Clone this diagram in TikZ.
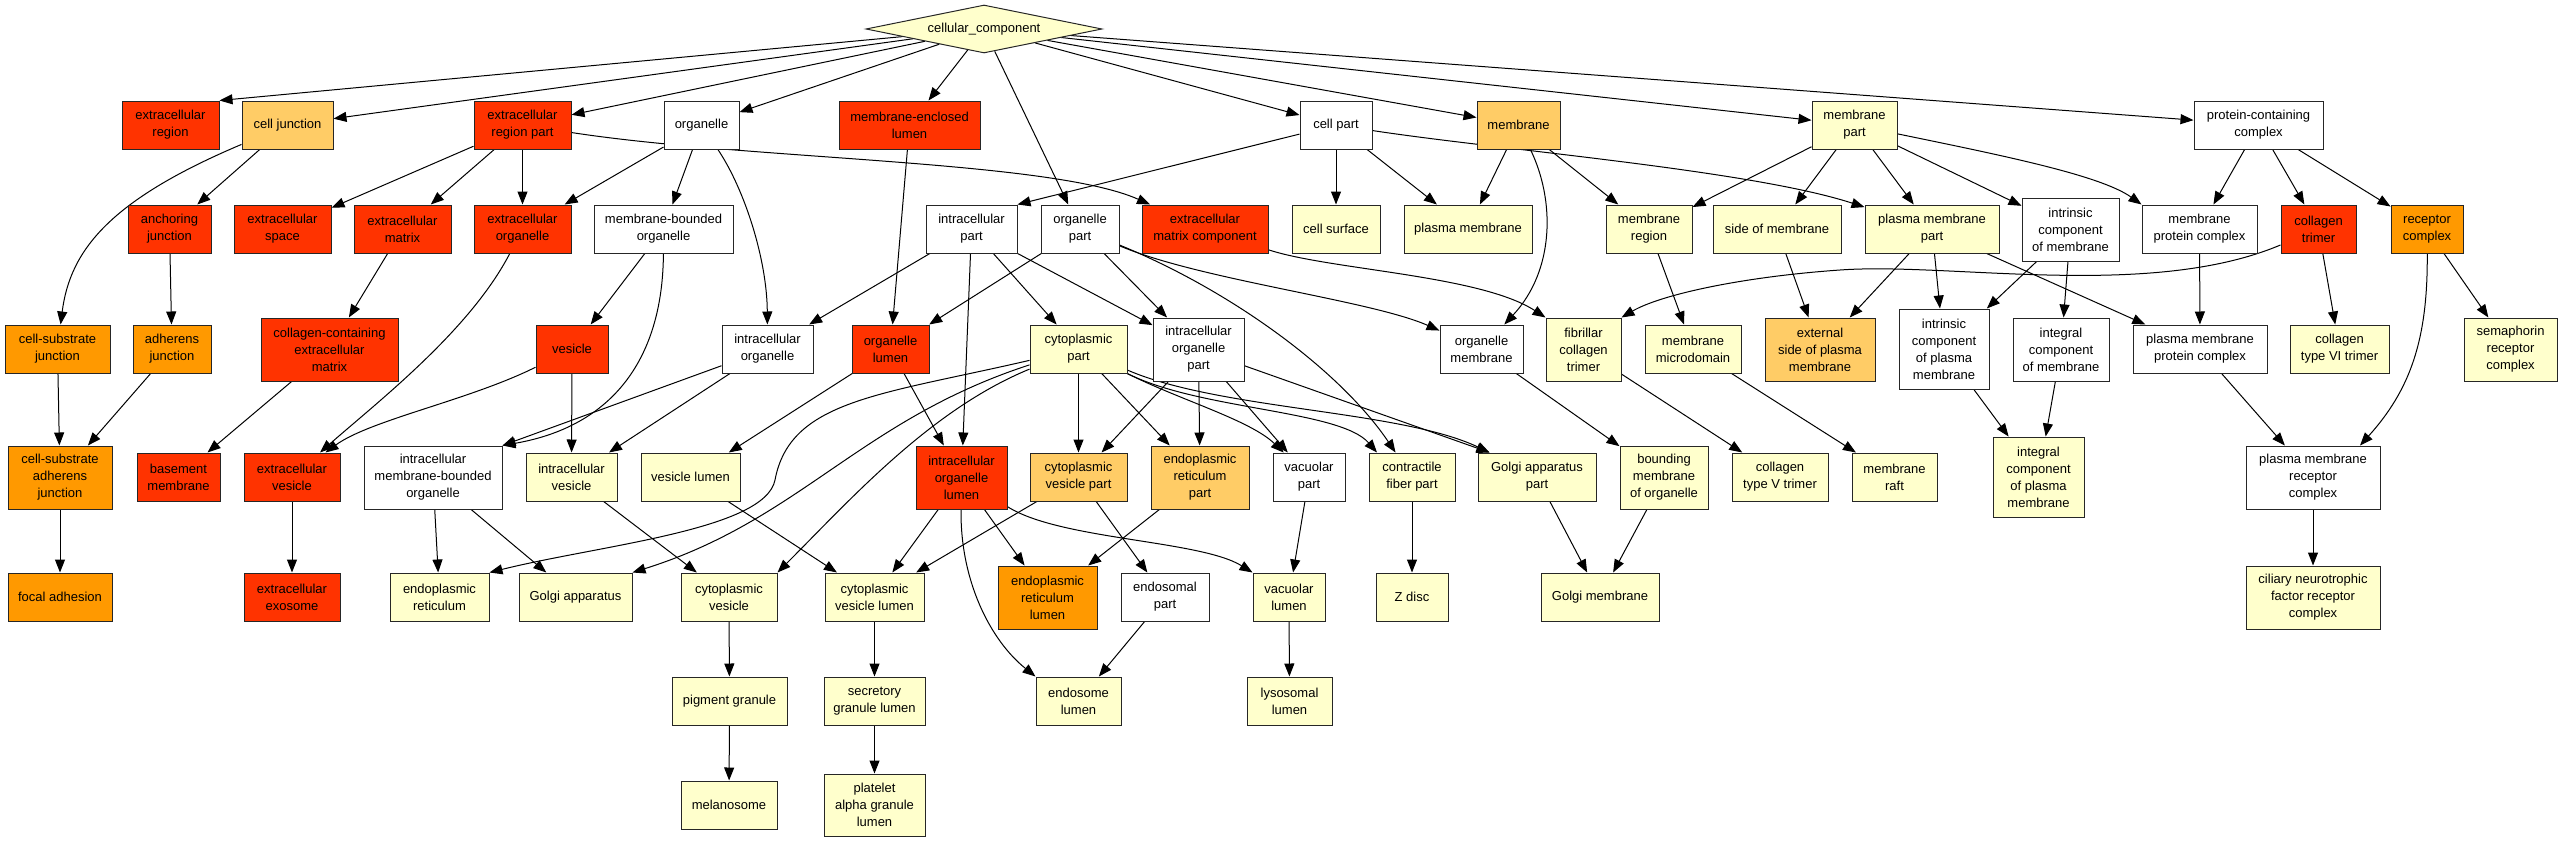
\documentclass[tikz,border=0pt]{standalone}
\usepackage{fontspec}
\setmainfont{Liberation Sans}
\usetikzlibrary{shapes.geometric,arrows.meta}
\definecolor{cRed}{HTML}{FF3300}
\definecolor{cOrg}{HTML}{FF9900}
\definecolor{cLor}{HTML}{FFCC66}
\definecolor{cYel}{HTML}{FFFFCC}
\pgfdeclarelayer{bg}
\pgfsetlayers{bg,main}
\begin{document}
\begin{tikzpicture}[x=1pt,y=-1pt,
  box/.style={rectangle,draw=black!85,line width=1pt,inner sep=0pt,align=center,font=\fontsize{13}{17}\selectfont},
  sz/.style 2 args={minimum width=#1pt,minimum height=#2pt},
  R/.style={box,fill=cRed}, O/.style={box,fill=cOrg}, L/.style={box,fill=cLor},
  Y/.style={box,fill=cYel}, W/.style={box,fill=white},
  e/.style={draw=black,line width=1pt,-{Triangle[length=13pt,width=10pt]}}]
\useasboundingbox (0,0) rectangle (2563,843);
% row 0
\node[diamond,aspect=4.9,draw=black!85,line width=1pt,fill=cYel,inner sep=0pt,minimum width=236pt,minimum height=48pt,font=\fontsize{13}{17}\selectfont] (cc) at (984,29) {cellular\_component};
% row 1
\node[R,sz={97}{48}] (er) at (170.5,125) {extracellular\\region};
\node[L,sz={91}{48}] (cj) at (287.5,125) {cell junction};
\node[R,sz={97}{48}] (erp) at (522.5,125) {extracellular\\region part};
\node[W,sz={75}{48}] (org) at (701.5,125) {organelle};
\node[R,sz={141}{48}] (mel) at (909.5,125) {membrane-enclosed\\lumen};
\node[W,sz={72}{48}] (cp) at (1336,125) {cell part};
\node[L,sz={83}{48}] (mem) at (1518.5,125) {membrane};
\node[Y,sz={85}{48}] (mp) at (1854.5,125) {membrane\\part};
\node[W,sz={129}{48}] (pcc) at (2258.5,125) {protein-containing\\complex};
% row 2
\node[R,sz={83}{48}] (aj) at (169.5,229) {anchoring\\junction};
\node[R,sz={97}{48}] (es) at (282.5,229) {extracellular\\space};
\node[R,sz={97}{48}] (em) at (402.5,229) {extracellular\\matrix};
\node[R,sz={97}{48}] (eo) at (522.5,229) {extracellular\\organelle};
\node[W,sz={139}{48}] (mbo) at (663.5,229) {membrane-bounded\\organelle};
\node[W,sz={91}{48}] (ip) at (971.5,229) {intracellular\\part};
\node[W,sz={78}{48}] (op) at (1080,229) {organelle\\part};
\node[R,sz={126}{48}] (emc) at (1205,229) {extracellular\\matrix component};
\node[Y,sz={88}{48}] (cs) at (1336,229) {cell surface};
\node[Y,sz={128}{48}] (pm) at (1468,229) {plasma membrane};
\node[Y,sz={86}{48}] (mr) at (1649,229) {membrane\\region};
\node[Y,sz={128}{48}] (som) at (1777,229) {side of membrane};
\node[Y,sz={134}{48}] (pmp) at (1932,229) {plasma membrane\\part};
\node[W,sz={97}{63}] (icm) at (2070.5,229.5) {intrinsic\\component\\of membrane};
\node[W,sz={115}{48}] (mpc) at (2199.5,229) {membrane\\protein complex};
\node[R,sz={75}{48}] (ct) at (2318.5,229) {collagen\\trimer};
\node[O,sz={72}{48}] (rc) at (2427,229) {receptor\\complex};
% row 3
\node[O,sz={105}{48}] (csj) at (57.5,349) {cell-substrate\\junction};
\node[O,sz={78}{48}] (adj) at (172,349) {adherens\\junction};
\node[R,sz={137}{63}] (ccecm) at (329.5,349.5) {collagen-containing\\extracellular\\matrix};
\node[R,sz={72}{48}] (ves) at (572,349) {vesicle};
\node[W,sz={91}{48}] (io) at (767.5,349) {intracellular\\organelle};
\node[R,sz={77}{48}] (ol) at (890.5,349) {organelle\\lumen};
\node[Y,sz={97}{48}] (cyp) at (1078.5,349) {cytoplasmic\\part};
\node[W,sz={91}{63}] (iop) at (1198.5,349.5) {intracellular\\organelle\\part};
\node[W,sz={83}{48}] (om) at (1481.5,349) {organelle\\membrane};
\node[Y,sz={75}{63}] (fct) at (1583.5,349.5) {fibrillar\\collagen\\trimer};
\node[Y,sz={96}{48}] (mmd) at (1693,349) {membrane\\microdomain};
\node[L,sz={110}{63}] (espm) at (1820,349.5) {external\\side of plasma\\membrane};
\node[W,sz={90}{80}] (icpm) at (1944,349) {intrinsic\\component\\of plasma\\membrane};
\node[W,sz={96}{63}] (igm) at (2061,349.5) {integral\\component\\of membrane};
\node[W,sz={134}{48}] (pmpc) at (2200,349) {plasma membrane\\protein complex};
\node[Y,sz={99}{48}] (ct6) at (2339.5,349) {collagen\\type VI trimer};
\node[Y,sz={93}{63}] (src) at (2510.5,349.5) {semaphorin\\receptor\\complex};
% row 4
\node[O,sz={104}{63}] (csaj) at (60,477.5) {cell-substrate\\adherens\\junction};
\node[R,sz={83}{48}] (bm) at (178.5,477) {basement\\membrane};
\node[R,sz={96}{48}] (ev) at (292,477) {extracellular\\vesicle};
\node[W,sz={138}{63}] (imbo) at (433,477.5) {intracellular\\membrane-bounded\\organelle};
\node[Y,sz={91}{48}] (iv) at (571.5,477) {intracellular\\vesicle};
\node[Y,sz={99}{48}] (vl) at (690.5,477) {vesicle lumen};
\node[R,sz={91}{63}] (iol) at (961.5,477.5) {intracellular\\organelle\\lumen};
\node[L,sz={97}{48}] (cvp) at (1078.5,477) {cytoplasmic\\vesicle part};
\node[L,sz={98}{63}] (erpt) at (1200,477.5) {endoplasmic\\reticulum\\part};
\node[W,sz={72}{48}] (vp) at (1309,477) {vacuolar\\part};
\node[Y,sz={86}{48}] (cfp) at (1412,477) {contractile\\fiber part};
\node[Y,sz={118}{48}] (gap) at (1537,477) {Golgi apparatus\\part};
\node[Y,sz={88}{63}] (bmo) at (1664,477.5) {bounding\\membrane\\of organelle};
\node[Y,sz={96}{48}] (ct5) at (1780,477) {collagen\\type V trimer};
\node[Y,sz={85}{48}] (mraft) at (1894.5,477) {membrane\\raft};
\node[Y,sz={91}{80}] (igpm) at (2038.5,477) {integral\\component\\of plasma\\membrane};
\node[W,sz={134}{63}] (pmrc) at (2313,477.5) {plasma membrane\\receptor\\complex};
% row 5
\node[O,sz={104}{48}] (fa) at (60,597) {focal adhesion};
\node[R,sz={96}{48}] (exo) at (292,597) {extracellular\\exosome};
\node[Y,sz={99}{48}] (endr) at (439.5,597) {endoplasmic\\reticulum};
\node[Y,sz={113}{48}] (ga) at (575.5,597) {Golgi apparatus};
\node[Y,sz={96}{48}] (cv) at (729,597) {cytoplasmic\\vesicle};
\node[Y,sz={99}{48}] (cvl) at (874.5,597) {cytoplasmic\\vesicle lumen};
\node[O,sz={99}{63}] (erl) at (1047.5,597.5) {endoplasmic\\reticulum\\lumen};
\node[W,sz={88}{48}] (endp) at (1165,597) {endosomal\\part};
\node[Y,sz={72}{48}] (vacl) at (1289,597) {vacuolar\\lumen};
\node[Y,sz={72}{48}] (zd) at (1412,597) {Z disc};
\node[Y,sz={118}{48}] (gm) at (1600,597) {Golgi membrane};
\node[Y,sz={134}{63}] (cnfrc) at (2313,597.5) {ciliary neurotrophic\\factor receptor\\complex};
% row 6
\node[Y,sz={115}{48}] (pg) at (729.5,701) {pigment granule};
\node[Y,sz={101}{48}] (sgl) at (874.5,701) {secretory\\granule lumen};
\node[Y,sz={85}{48}] (el) at (1078.5,701) {endosome\\lumen};
\node[Y,sz={85}{48}] (ll) at (1289.5,701) {lysosomal\\lumen};
% row 7
\node[Y,sz={96}{48}] (mlsm) at (729,805) {melanosome};
\node[Y,sz={101}{62}] (pagl) at (874.5,805) {platelet\\alpha granule\\lumen};

\begin{pgfonlayer}{bg}
\fill[white] (0,0) rectangle (2563,843);
\draw[e] (cc) -- (er.north east);
\draw[e] (cc) -- (cj);
\draw[e] (cc) -- (erp);
\draw[e] (cc) -- (org);
\draw[e] (cc) -- (mel);
\draw[e] (cc) -- (op);
\draw[e] (cc) -- (cp);
\draw[e] (cc) -- (mem);
\draw[e] (cc) -- (mp);
\draw[e] (cc) -- (pcc);
\draw[e] (cj) .. controls (110,200) and (70,250) .. (csj);
\draw[e] (cj) -- (aj);
\draw[e] (aj) -- (adj);
\draw[e] (csj) -- (csaj);
\draw[e] (adj) -- (csaj);
\draw[e] (csaj) -- (fa);
\draw[e] (erp) -- (es);
\draw[e] (erp) -- (em);
\draw[e] (erp) -- (eo);
\draw[e] (erp) .. controls (750,160) and (1050,160) .. (emc);
\draw[e] (em) -- (ccecm);
\draw[e] (ccecm) -- (bm);
\draw[e] (eo) .. controls (470,330) and (380,400) .. (ev);
\draw[e] (ev) -- (exo);
\draw[e] (org) -- (eo);
\draw[e] (org) -- (mbo);
\draw[e] (org) .. controls (745,190) and (767,260) .. (io);
\draw[e] (mbo) -- (ves);
\draw[e] (mbo) .. controls (663,350) and (620,425) .. (imbo.north east);
\draw[e] (io) -- (imbo.north east);
\draw[e] (io) -- (iv);
\draw[e] (ves) .. controls (470,400) and (370,420) .. (ev);
\draw[e] (ves) -- (iv);
\draw[e] (iv) -- (cv);
\draw[e] (imbo) -- (endr);
\draw[e] (imbo) -- (ga);
\draw[e] (vl) -- (cvl);
\draw[e] (cv) -- (pg);
\draw[e] (pg) -- (mlsm);
\draw[e] (cvl) -- (sgl);
\draw[e] (sgl) -- (pagl);
\draw[e] (mel) -- (ol);
\draw[e] (op) -- (ol);
\draw[e] (op) -- (iop);
\draw[e] (op) .. controls (1200,280) and (1370,300) .. (om);
\draw[e] (op) .. controls (1230,290) and (1340,370) .. (cfp);
\draw[e] (ol) -- (vl);
\draw[e] (ol) -- (iol);
\draw[e] (ip) -- (io);
\draw[e] (ip) -- (iol);
\draw[e] (ip) -- (cyp);
\draw[e] (ip) -- (iop);
\draw[e] (cp) -- (ip.north east);
\draw[e] (cp) -- (cs);
\draw[e] (cp) -- (pm);
\draw[e] (cp) .. controls (1500,150) and (1750,170) .. (pmp);
\draw[e] (mem) -- (pm);
\draw[e] (mem) .. controls (1555,200) and (1555,270) .. (om);
\draw[e] (mem) -- (mr);
\draw[e] (cyp) -- (cvp);
\draw[e] (cyp) -- (erpt);
\draw[e] (cyp) .. controls (1180,400) and (1250,420) .. (vp);
\draw[e] (cyp) .. controls (1200,410) and (1340,410) .. ([xshift=-35pt]cfp.north);
\draw[e] (cyp) .. controls (1220,410) and (1400,410) .. ([xshift=12pt]gap.north west);
\draw[e] (cyp) .. controls (880,395) and (790,400) .. (775,480) .. controls (765,530) and (600,545) .. (endr.north east);
\draw[e] (cyp) .. controls (860,420) and (800,520) .. (ga.north east);
\draw[e] (cyp) .. controls (930,410) and (850,500) .. (cv.north east);
\draw[e] (iop) -- (cvp);
\draw[e] (iop) -- (erpt);
\draw[e] (iop) -- (vp);
\draw[e] (iop) -- ([xshift=12pt]gap.north west);
\draw[e] (iol) -- (cvl);
\draw[e] (iol) -- (erl);
\draw[e] (iol) .. controls (960,580) and (990,640) .. (el.north west);
\draw[e] (iol) .. controls (1060,540) and (1200,540) .. (vacl.north west);
\draw[e] (cvp) -- (cvl);
\draw[e] (cvp) -- (endp);
\draw[e] (erpt) -- (erl);
\draw[e] (endp) -- (el);
\draw[e] (vp) -- (vacl);
\draw[e] (vacl) -- (ll);
\draw[e] (cfp) -- (zd);
\draw[e] (gap) -- (gm);
\draw[e] (bmo) -- (gm);
\draw[e] (om) -- (bmo);
\draw[e] (emc) .. controls (1330,270) and (1480,275) .. (fct.north west);
\draw[e] (ct) .. controls (2150,300) and (1950,262) .. (1840,270) .. controls (1740,277) and (1660,295) .. (fct.north east);
\draw[e] (ct) -- (ct6);
\draw[e] (fct) -- (ct5);
\draw[e] (mr) -- (mmd);
\draw[e] (mmd) -- (mraft);
\draw[e] (mp) -- (mr);
\draw[e] (mp) -- (som);
\draw[e] (mp) -- (pmp);
\draw[e] (mp) -- (icm);
\draw[e] (mp) .. controls (2000,155) and (2100,175) .. (mpc.north west);
\draw[e] (som) -- (espm);
\draw[e] (pmp) -- (espm);
\draw[e] (pmp) -- (icpm);
\draw[e] (pmp) -- (pmpc);
\draw[e] (icm) -- (icpm);
\draw[e] (icm) -- (igm);
\draw[e] (icpm) -- (igpm);
\draw[e] (igm) -- (igpm);
\draw[e] (pcc) -- (mpc);
\draw[e] (pcc) -- (ct);
\draw[e] (pcc) -- (rc);
\draw[e] (mpc) -- (pmpc);
\draw[e] (pmpc) -- (pmrc);
\draw[e] (rc) .. controls (2428,340) and (2410,390) .. ([xshift=47pt]pmrc.north);
\draw[e] (rc) -- (src);
\draw[e] (pmrc) -- (cnfrc);
\end{pgfonlayer}
\end{tikzpicture}
\end{document}
